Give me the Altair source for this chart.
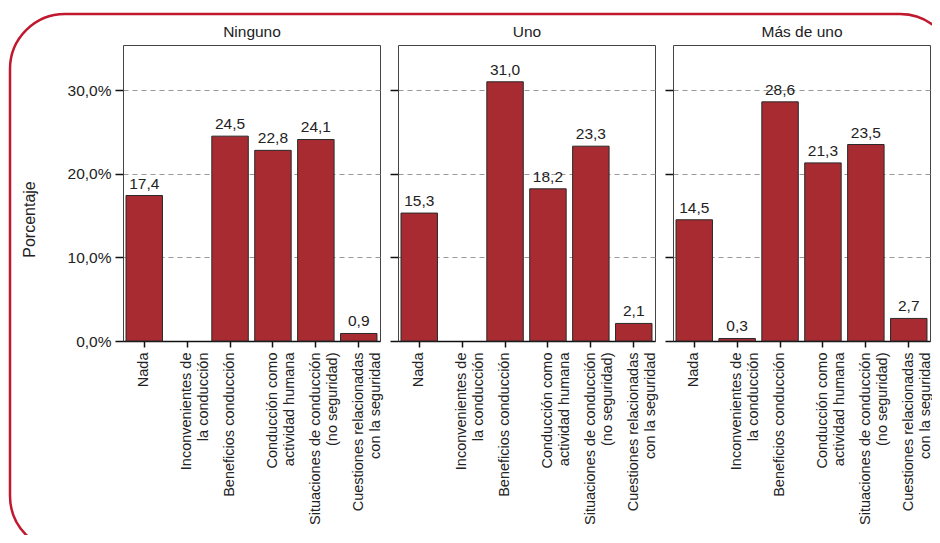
import altair as alt
import pandas as pd

groups = ["Ninguno", "Uno", "Más de uno"]
categories = [
    "Nada",
    "Inconvenientes de|la conducción",
    "Beneficios conducción",
    "Conducción como|actividad humana",
    "Situaciones de conducción|(no seguridad)",
    "Cuestiones relacionadas|con la seguridad",
]
ninguno = [17.4, None, 24.5, 22.8, 24.1, 0.9]
uno = [15.3, None, 31.0, 18.2, 23.3, 2.1]
mas_de_uno = [14.5, 0.3, 28.6, 21.3, 23.5, 2.7]
y_ticks = [0, 10, 20, 30]

rows = []
for g, vals in zip(groups, [ninguno, uno, mas_de_uno]):
    for c, v in zip(categories, vals):
        rows.append({"grupo": g, "cat": c, "val": v})
df = pd.DataFrame(rows)

FONT = "Liberation Sans"
BAR = "#a82b31"
TXT = "#222222"


def panel(name, first):
    base = alt.Chart(df).transform_filter(alt.datum.grupo == name)
    xscale = alt.Scale(domain=categories, paddingInner=0.15, paddingOuter=0.07)
    x_bottom = alt.X(
        "cat:N",
        sort=categories,
        scale=xscale,
        axis=alt.Axis(
            title=None,
            labelAngle=-90,
            labelExpr="split(datum.label, '|')",
            labelLineHeight=17,
            labelFontSize=14.5,
            labelColor=TXT,
            labelPadding=5,
            tickSize=6,
            tickWidth=1.5,
            tickColor="#111",
            domainColor="#111",
            domainWidth=1.5,
        ),
    )
    x_top = alt.X(
        "cat:N",
        sort=categories,
        scale=xscale,
        axis=alt.Axis(
            orient="top",
            title=name,
            labels=False,
            ticks=False,
            domain=False,
            titleFontSize=15.5,
            titleFontWeight="normal",
            titleColor=TXT,
            titlePadding=6,
        ),
    )
    y = alt.Y(
        "val:Q",
        scale=alt.Scale(domain=[0, 35.4], nice=False),
        axis=alt.Axis(
            values=y_ticks,
            grid=True,
            gridDash=[5, 4],
            gridColor="#999999",
            gridWidth=1,
            domain=False,
            tickSize=8,
            tickWidth=1.5,
            tickColor="#111",
            labels=first,
            labelExpr="replace(format(datum.value, '.1f'), '.', ',') + '%'",
            labelFontSize=15.5,
            labelColor=TXT,
            labelPadding=4,
            title="Porcentaje" if first else None,
            titleFontSize=16,
            titleFontWeight="normal",
            titleColor=TXT,
            titleY=174,
            titleX=-86,
        ),
    )
    bars = base.mark_bar(color=BAR, stroke="#2a2a2a", strokeWidth=1).encode(x=x_bottom, y=y)
    text = (
        base.transform_filter("isValid(datum.val)")
        .transform_calculate(lab="replace(format(datum.val, '.1f'), '.', ',')")
        .mark_text(baseline="alphabetic", dy=-7, fontSize=15.5, color=TXT, font=FONT)
        .encode(x=x_top, y=y, text="lab:N")
    )
    layers = [bars, text]
    if first:
        frame = (
            base.transform_filter(alt.datum.cat == "Nada")
            .mark_rect(
                fillOpacity=0,
                stroke="#c0182e",
                strokeWidth=2.5,
                cornerRadius=55,
                clip=False,
            )
            .encode(
                x=alt.value(-113),
                x2=alt.value(832),
                y=alt.value(-31),
                y2=alt.value(506),
            )
        )
        layers = [frame] + layers
    return (
        alt.layer(*layers)
        .resolve_axis(x="independent")
        .properties(width=257, height=296)
    )


chart = (
    alt.hconcat(*[panel(g, i == 0) for i, g in enumerate(groups)], spacing=18, bounds="flush")
    .properties(padding={"left": 0, "top": 4, "right": -25, "bottom": -18})
    .configure_view(stroke="#444444", strokeWidth=1)
    .configure_axis(labelFont=FONT, titleFont=FONT)
)

chart.save("out.html", embed_options={"renderer": "svg", "actions": False})
